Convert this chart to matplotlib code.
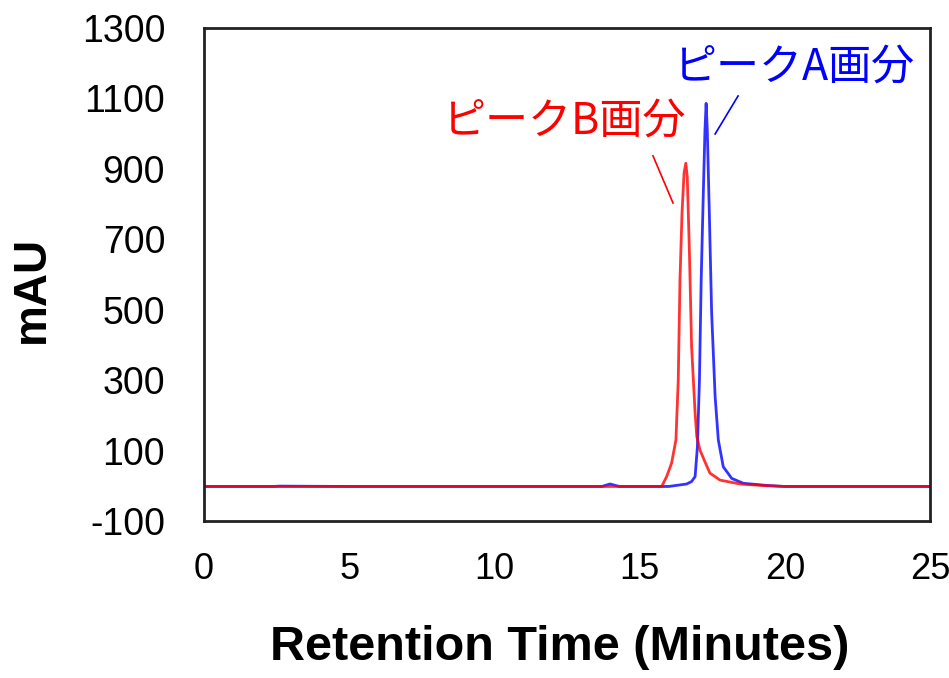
import matplotlib
matplotlib.use('Agg')
import matplotlib.pyplot as plt

plt.rcParams['font.family'] = ['Liberation Sans', 'DejaVu Sans']
plt.rcParams['axes.unicode_minus'] = False

# chromatogram of peak A fraction (blue)
time_a = [0, 2.4, 2.6, 5, 10, 13.7, 13.98, 14.3, 16.0, 16.62, 16.79, 16.91, 16.99,
          17.06, 17.12, 17.19, 17.25, 17.29, 17.33, 17.40, 17.48, 17.60, 17.71,
          17.88, 18.17, 18.57, 19.37, 20, 25]
mau_a = [-2, -2, -1, -2, -2, -2, 5, -2, -2, 5, 12, 26, 111,
         300, 585, 821, 1010, 1086, 1010, 775, 491, 253, 130,
         54, 21, 7, 1, -2, -2]

# chromatogram of peak B fraction (red)
time_b = [0, 5, 10, 15.0, 15.76, 15.93, 16.10, 16.25, 16.33, 16.39, 16.46, 16.53,
          16.59, 16.64, 16.71, 16.79, 16.91, 16.97, 17.08, 17.25, 17.42, 17.77,
          18.46, 19.37, 20, 25]
mau_b = [-2, -2, -2, -2, -2, 26, 64, 130, 300, 585, 775, 888,
         916, 878, 679, 395, 207, 139, 101, 68, 36, 16,
         5, 0, -2, -2]

x_ticks = [0, 5, 10, 15, 20, 25]
y_ticks = [-100, 100, 300, 500, 700, 900, 1100, 1300]

label_a = 'ピークA画分'
label_b = 'ピークB画分'
label_a_pos = (20.35, 1189)
label_b_pos = (12.43, 1033)
leader_a = ([18.39, 17.60], [1107, 999])
leader_b = ([15.46, 16.15], [937, 803])

fig = plt.figure(figsize=(9.49, 6.78), dpi=100)
ax = fig.add_axes([0.215, 0.2316, 0.765, 0.7271])

ax.plot(time_a, mau_a, color='#0000ff', lw=2, alpha=0.8)
ax.plot(time_b, mau_b, color='#ff0000', lw=2, alpha=0.8)

ax.plot(*leader_a, color='#0000ff', lw=1.2)
ax.plot(*leader_b, color='#ff0000', lw=1.2)

jp = ['Noto Sans CJK JP', 'DejaVu Sans']
ax.text(*label_a_pos, label_a, color='#0000ff', fontsize=31, family=jp,
        ha='center', va='center')
ax.text(*label_b_pos, label_b, color='#ff0000', fontsize=31, family=jp,
        ha='center', va='center')

ax.set_xlim(0, 25)
ax.set_ylim(-100, 1300)
ax.set_xticks(x_ticks)
ax.set_yticks(y_ticks)
ax.tick_params(length=0, labelsize=27)
ax.tick_params(axis='y', pad=28)
ax.tick_params(axis='x', pad=22, labelsize=26)
for s in ax.spines.values():
    s.set_linewidth(2)
    s.set_color('#222222')

ax.set_xlabel('Retention Time (Minutes)', fontsize=35, fontweight='bold')
ax.set_ylabel('mAU', fontsize=33, fontweight='bold')
ax.xaxis.set_label_coords(0.49, -0.212)
ax.yaxis.set_label_coords(-0.207, 0.469)

fig.savefig('out.png', dpi=100)
